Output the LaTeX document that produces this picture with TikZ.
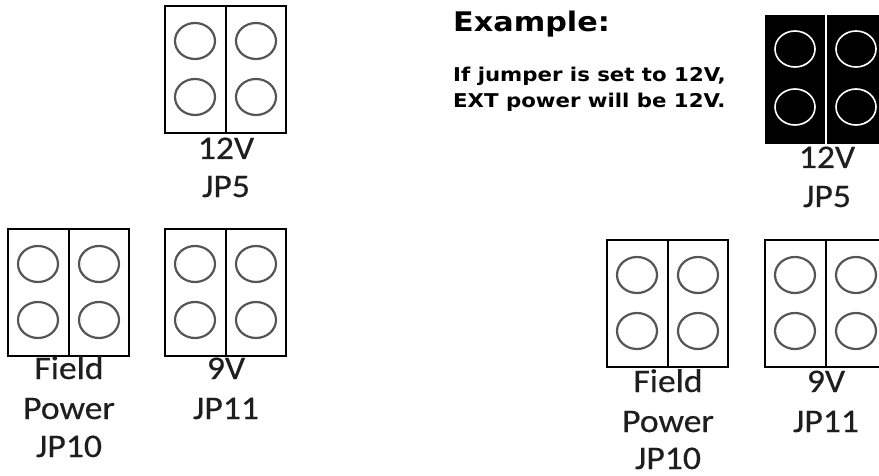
\documentclass[tikz,border=0pt]{standalone}
\usepackage{fontspec}
\setmainfont[FakeStretch=1.08,FakeBold=0.4]{Carlito}
\newfontfamily\notefont[FakeStretch=1.12]{DejaVu Sans}
\definecolor{pingray}{HTML}{555555}
\definecolor{tagcolor}{HTML}{1E1E1E}
\begin{document}
\begin{tikzpicture}[x=1pt,y=-1pt,
    boxline/.style={draw=black,line width=1.6pt},
    pinring/.style={draw=pingray,line width=2.2pt},
    tag/.style={anchor=base,inner sep=0pt,text=tagcolor,
      font=\fontsize{33}{33}\selectfont},
    note/.style={anchor=base west,inner sep=0pt,
      font=\notefont\bfseries\fontsize{19}{19}\selectfont},
    pics/jumper/.style={code={
      \draw[boxline] (0,0) rectangle (121,127) (61,0) -- (61,127);
      \foreach \px in {30,91}
        \foreach \py in {35,91}
          \draw[pinring] (\px,\py) ellipse [x radius=20,y radius=18];
    }},
    pics/jumperset/.style={code={
      \fill[black] (0,0) rectangle (121,129);
      \draw[white,line width=2pt] (61,0) -- (61,129);
      \foreach \px in {30,91}
        \foreach \py in {34,92}
          \draw[white,line width=1.6pt] (\px,\py) ellipse [x radius=20,y radius=18];
    }}]
  \useasboundingbox (0,0) rectangle (879,476);
  \clip (0,0) rectangle (879,476);

  % left: jumpers as delivered
  \pic at (165,6) {jumper};
  \node[tag] (v12a) at (226,159) {12V};
  \node[tag] (jp5a) at (226,197) {JP5};

  \pic at (8,229) {jumper};
  \node[tag] (fielda) at (69,379) {Field};
  \node[tag] (powera) at (69,419) {Power};
  \node[tag] (jp10a) at (69,457) {JP10};

  \pic at (165,229) {jumper};
  \node[tag] (v9a) at (226,379) {9V};
  \node[tag] (jp11a) at (226,419) {JP11};

  % right: example with 12V set
  \node[anchor=base west,inner sep=0pt,
    font=\notefont\bfseries\fontsize{27}{27}\selectfont] (example) at (453,32) {Example:};
  \node[note] (ifline) at (453,82) {If jumper is set to 12V,};
  \node[note] (extline) at (453,108) {EXT power will be 12V.};

  \pic at (765,15) {jumperset};
  \node[tag] (v12b) at (827,168) {12V};
  \node[tag] (jp5b) at (827,207) {JP5};

  \pic at (607,240) {jumper};
  \node[tag] (fieldb) at (668,392) {Field};
  \node[tag] (powerb) at (668,432) {Power};
  \node[tag] (jp10b) at (668,469) {JP10};

  \pic at (765,240) {jumper};
  \node[tag] (v9b) at (826,392) {9V};
  \node[tag] (jp11b) at (826,432) {JP11};
\end{tikzpicture}
\end{document}
